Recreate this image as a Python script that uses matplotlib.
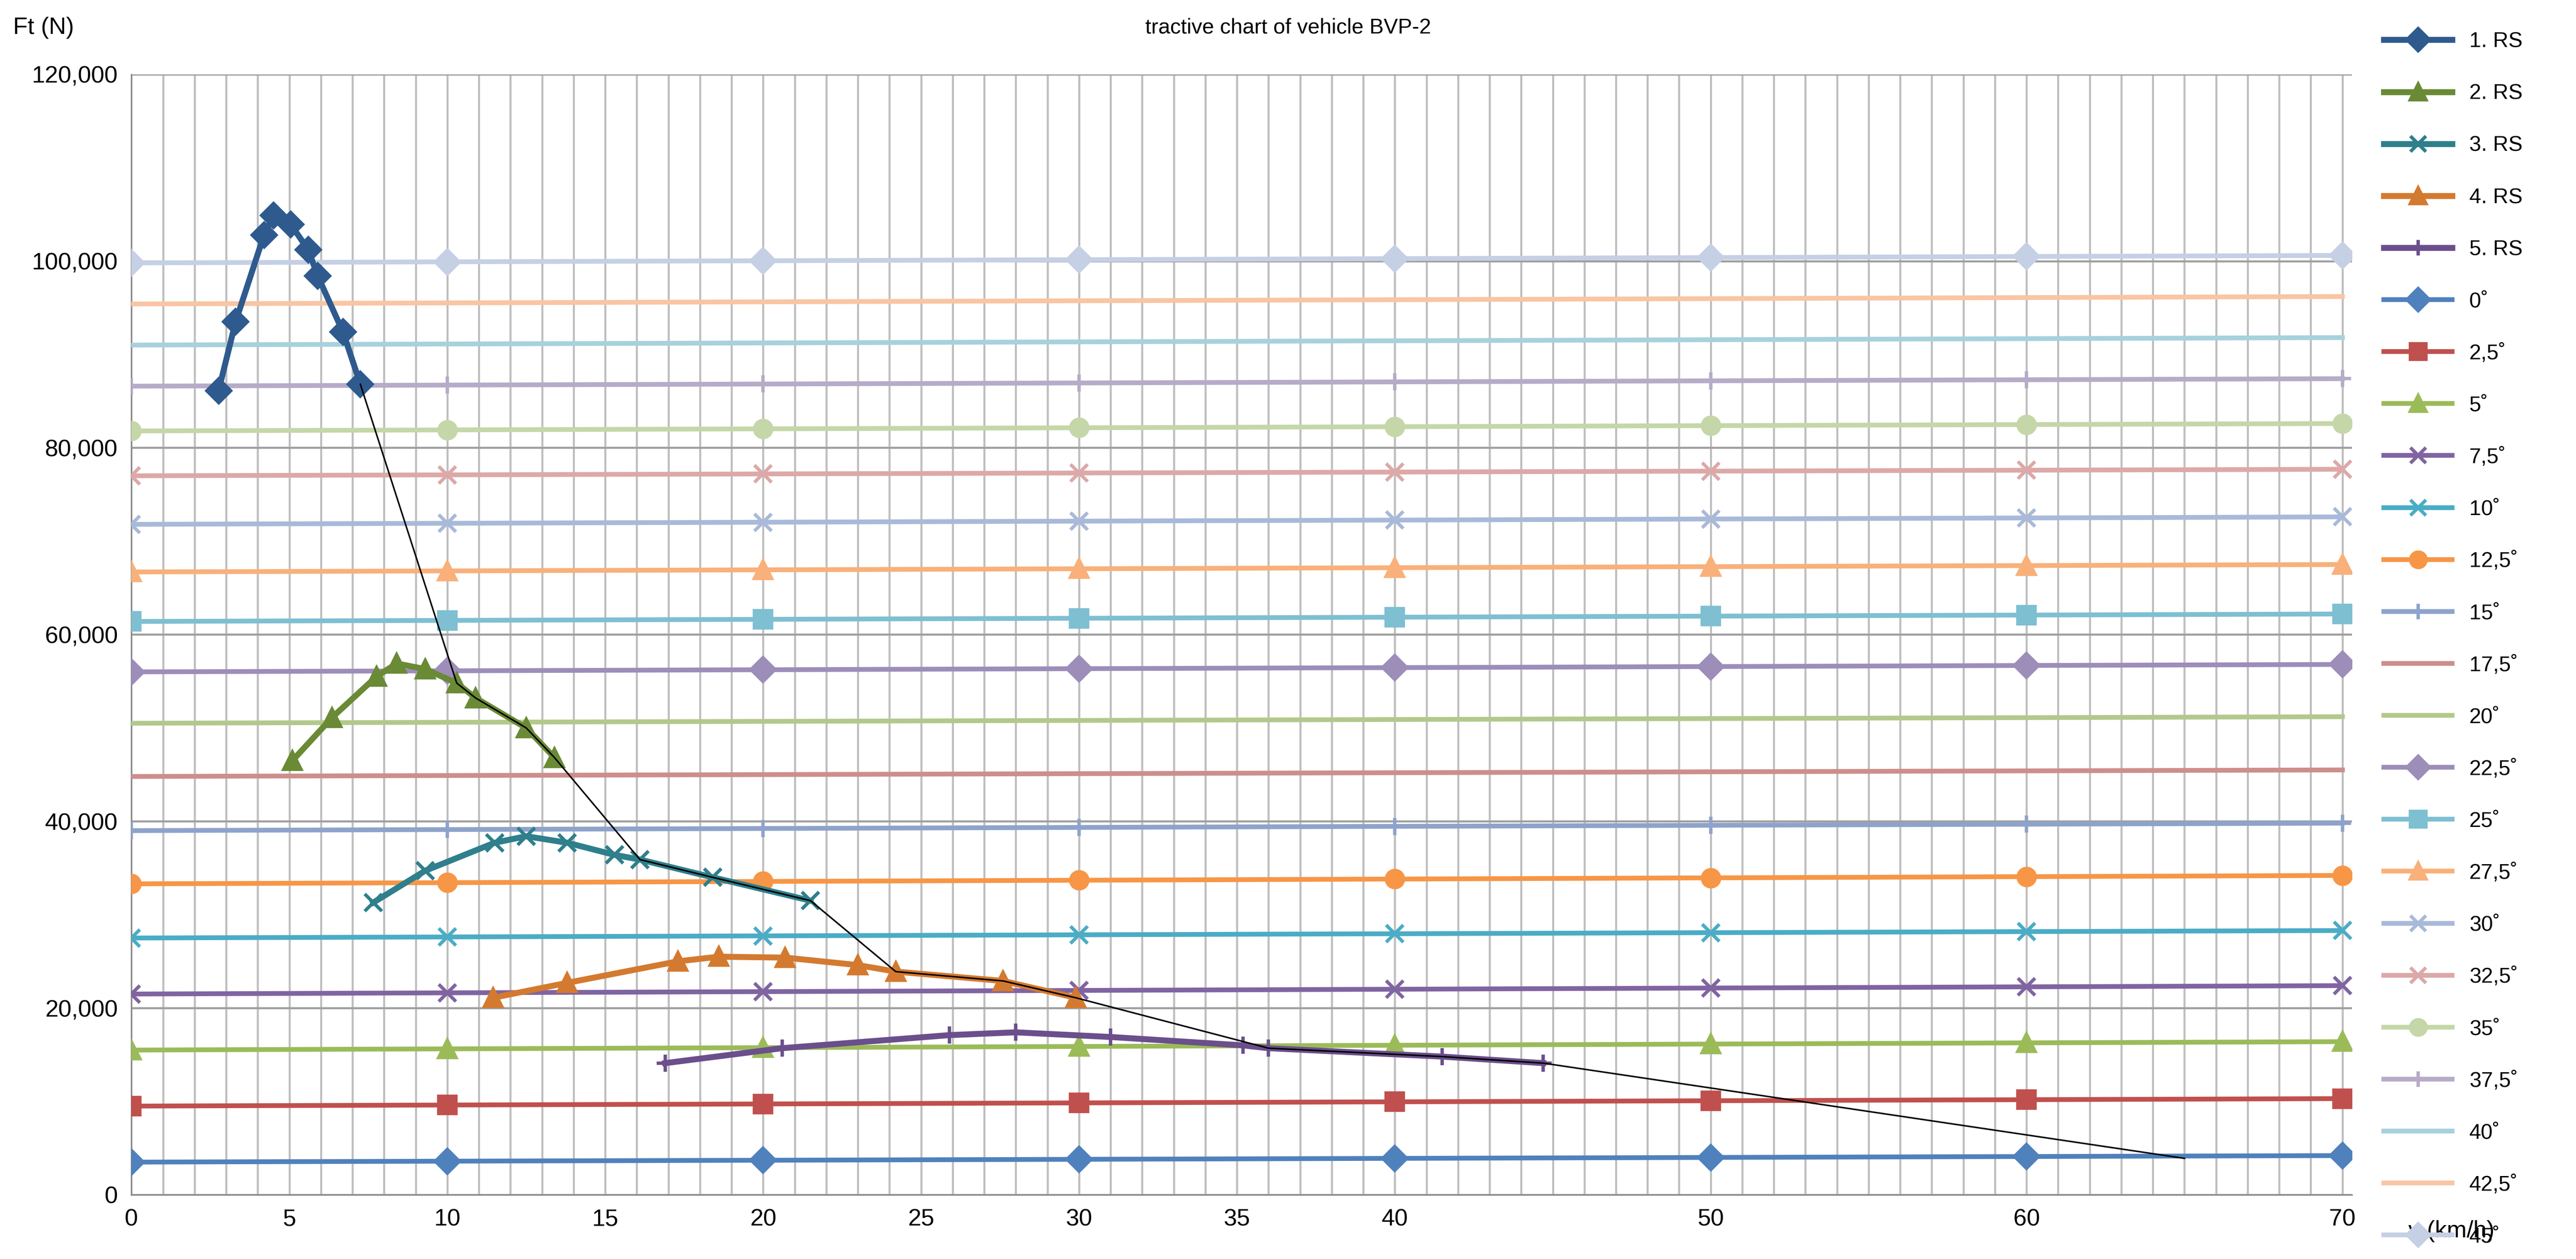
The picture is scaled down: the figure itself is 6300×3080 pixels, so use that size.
import matplotlib
matplotlib.use("Agg")
import matplotlib.pyplot as plt
from matplotlib.ticker import FuncFormatter, MultipleLocator

plt.rcParams['font.family'] = ['Liberation Sans', 'DejaVu Sans']

# ---- data ----
rs_labels = ["1. RS", "2. RS", "3. RS", "4. RS", "5. RS"]
rs1_v = [2.76, 3.3, 4.2, 4.5, 5.05, 5.6, 5.9, 6.7, 7.25]
rs1_f = [86100, 93500, 102800, 104900, 103900, 101200, 98400, 92400, 86800]
rs2_v = [5.1, 6.35, 7.76, 8.4, 9.3, 10.3, 10.9, 12.5, 13.4]
rs2_f = [46500, 51100, 55500, 56900, 56300, 54800, 53200, 50000, 46800]
rs3_v = [7.66, 9.3, 11.5, 12.5, 13.8, 15.3, 16.1, 18.4, 21.5]
rs3_f = [31300, 34700, 37700, 38400, 37700, 36400, 35900, 34000, 31500]
rs4_v = [11.45, 13.8, 17.3, 18.6, 20.7, 23.0, 24.2, 27.6, 29.9]
rs4_f = [21100, 22700, 25000, 25500, 25400, 24600, 23900, 22900, 21100]
rs5_v = [16.9, 20.6, 25.9, 28.0, 31.0, 35.2, 36.0, 41.5, 44.7]
rs5_f = [14100, 15700, 17100, 17400, 16900, 16000, 15700, 14800, 14100]

env_v = [7.25, 10.3, 10.9, 12.5, 13.4, 16.1, 18.4, 21.5, 24.2, 27.6, 29.9, 36.0, 41.5, 44.7, 65.0]
env_f = [86800, 54800, 53200, 50000, 46800, 35900, 34000, 31500, 23900, 22900, 21100, 15700, 14800, 14100, 3900]

slope_labels = ["0˚", "2,5˚", "5˚", "7,5˚", "10˚", "12,5˚", "15˚", "17,5˚", "20˚", "22,5˚",
                "25˚", "27,5˚", "30˚", "32,5˚", "35˚", "37,5˚", "40˚", "42,5˚", "45˚"]
slope_v = [0, 10, 20, 30, 40, 50, 60, 70]
slope_start = [3500, 9500, 15500, 21500, 27500, 33300, 39000, 44800, 50500, 56000,
               61400, 66700, 71800, 77000, 81800, 86600, 91000, 95400, 99800]
slope_end = [4200, 10300, 16400, 22400, 28300, 34200, 39800, 45500, 51200, 56800,
             62200, 67500, 72600, 77700, 82600, 87400, 91800, 96200, 100600]

# ---- styles ----
rs_colors = ["#2E5A8E", "#6A8A35", "#2F7F8C", "#D47A30", "#6B4F8C"]
rs_markers = ["D", "^", "x", "^", "+"]
slope_colors = ["#4F81BD", "#C0504D", "#9BBB59", "#8064A2", "#4BACC6", "#F79646",
                "#8EA3CB", "#CD8E8C", "#B3C98C", "#9D8DB9", "#7EBFD2", "#F9B07A",
                "#A9B9D9", "#DCA9A8", "#C5D7A9", "#B6ABC8", "#A7D1DD", "#F9C5A3", "#C5D0E5"]
slope_markers = ["D", "s", "^", "x", "x", "o", "+", None, None, "D",
                 "s", "^", "x", "x", "o", "+", None, None, "D"]

fig = plt.figure(figsize=(21, 10.2667), dpi=300)
ax = fig.add_axes([0.051, 0.051, 0.862, 0.890])

handles = []
rs_data = [(rs1_v, rs1_f), (rs2_v, rs2_f), (rs3_v, rs3_f), (rs4_v, rs4_f), (rs5_v, rs5_f)]
for (v, f), c, m, lab in zip(rs_data, rs_colors, rs_markers, rs_labels):
    h, = ax.plot(v, f, color=c, lw=3.5, marker=m, ms=10, mew=2, label=lab, zorder=5)
    handles.append(h)

for i, lab in enumerate(slope_labels):
    n = len(slope_v)
    vals = [slope_start[i] + (slope_end[i] - slope_start[i]) * k / (n - 1) for k in range(n)]
    h, = ax.plot(slope_v, vals, color=slope_colors[i], lw=2.8,
                 marker=slope_markers[i] if slope_markers[i] else "None",
                 ms=10, mew=2, label=lab, zorder=3)
    handles.append(h)

ax.plot(env_v, env_f, color="black", lw=0.9, zorder=6)

ax.set_xlim(0, 70.3)
ax.set_ylim(0, 120000)
ax.set_xticks([0, 5, 10, 15, 20, 25, 30, 35, 40, 50, 60, 70])
ax.xaxis.set_minor_locator(MultipleLocator(1))
ax.yaxis.set_major_locator(MultipleLocator(20000))
ax.yaxis.set_major_formatter(FuncFormatter(lambda y, p: f"{int(y):,}"))
ax.grid(which="both", axis="x", color="#BFBFBF", lw=1.2)
ax.grid(which="major", axis="y", color="#A0A0A0", lw=1.2)
ax.set_axisbelow(True)
for s in ["top", "right"]:
    ax.spines[s].set_visible(False)
for s in ["left", "bottom"]:
    ax.spines[s].set_color("#888888")
ax.tick_params(axis="both", labelsize=14, length=0, pad=8)
ax.tick_params(which="minor", length=0)

fig.text(0.5, 0.978, "tractive chart of vehicle BVP-2", ha="center", va="center", fontsize=12.5)
fig.text(0.005, 0.978, "Ft (N)", ha="left", va="center", fontsize=14)
fig.text(0.935, 0.022, "v (km/h)", ha="left", va="center", fontsize=14)

fig.legend(handles=handles, loc="upper left", bbox_to_anchor=(0.918, 0.99),
           frameon=False, fontsize=12.5, labelspacing=1.5, handlelength=3.2,
           markerscale=0.9)

fig.savefig("out.png", dpi=300)
